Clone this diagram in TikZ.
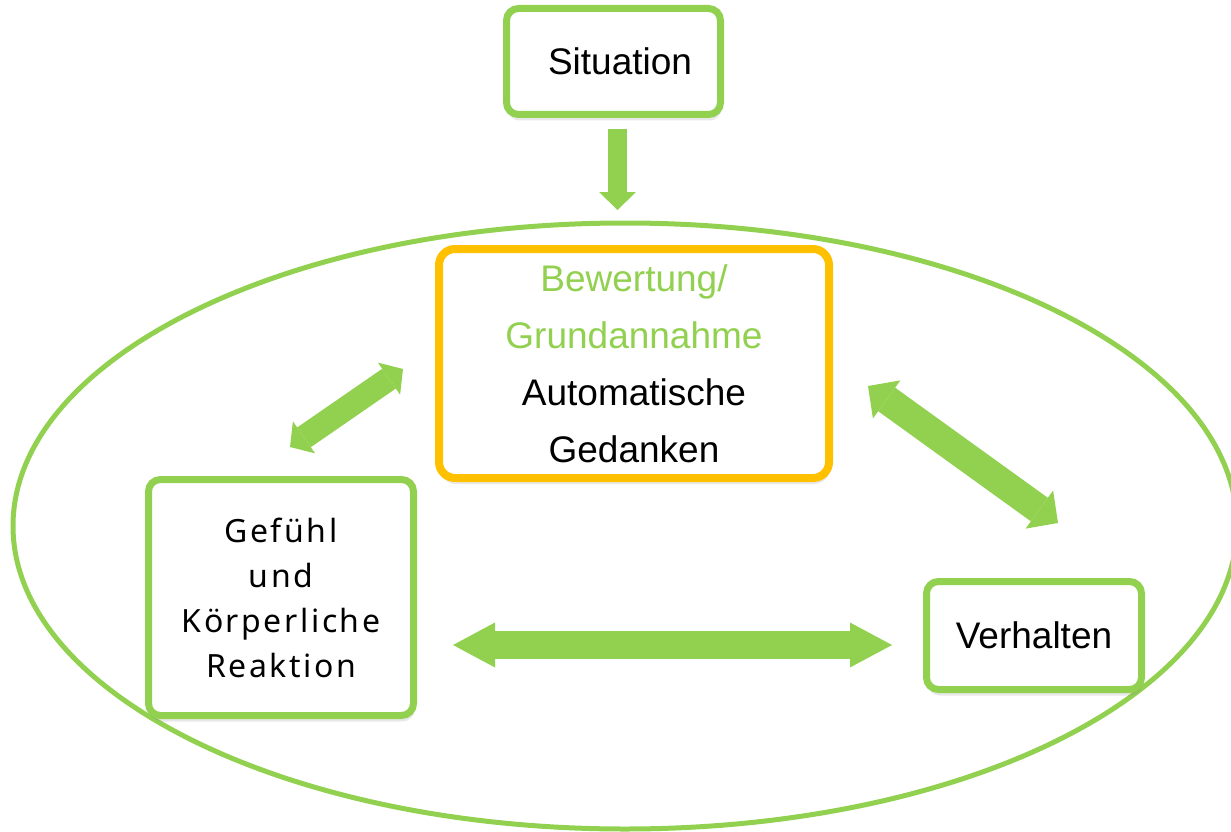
\documentclass[tikz,border=0pt]{standalone}
\usepackage{fontspec}
\setmainfont{Liberation Sans}
\newfontfamily\plexfont[LetterSpace=8]{Noto Sans}
\usetikzlibrary{arrows.meta,shadows,shapes.geometric}
\definecolor{lgreen}{HTML}{92D050}
\definecolor{gold}{HTML}{FFC000}
\begin{document}
\begin{tikzpicture}[x=1pt,y=-1pt,
  boxbase/.style={line width=7pt, rounded corners=12pt, fill=white, inner sep=0pt,
    drop shadow={shadow xshift=1pt, shadow yshift=-6pt, opacity=0.18}},
  gbox/.style={boxbase, draw=lgreen},
  ybox/.style={boxbase, draw=gold, line width=8pt, rounded corners=16pt},
  bigfont/.style={font=\fontsize{37}{57}\selectfont},
  plexstyle/.style={font=\plexfont\fontsize{32}{45}\selectfont},
  blockarrow/.style={draw=lgreen, line width=#1},
]
\useasboundingbox (0,0) rectangle (1231,832);
\clip (0,0) rectangle (1231,832);

% outer ellipse
\node[ellipse, draw=lgreen, line width=5pt, inner sep=0pt,
      minimum width=1224pt, minimum height=606pt] (kreis) at (625,526) {};

% boxes
\node[gbox, bigfont, minimum width=214pt, minimum height=106pt] (sit) at (613.5,61.5)
  {\hspace*{13pt}Situation};
\node[ybox, bigfont, align=center, minimum width=390pt, minimum height=229pt] (bew) at (634,363.5)
  {\textcolor{lgreen}{Bewertung/}\\\textcolor{lgreen}{Grundannahme}\\Automatische\\Gedanken};
\node[gbox, plexstyle, align=center, minimum width=265pt, minimum height=236pt] (gef) at (281,597.5)
  {Gefühl\\und\\Körperliche\\Reaktion};
\node[gbox, bigfont, minimum width=215pt, minimum height=108pt] (ver) at (1034,635.5)
  {Verhalten};

% connector end points
\coordinate (d1) at (617.5,129);
\coordinate (d2) at (617.5,210);
\coordinate (l1) at (290,447);
\coordinate (l2) at (403,369);
\coordinate (r1) at (868,386);
\coordinate (r2) at (1058,523);
\coordinate (h1) at (453,645);
\coordinate (h2) at (892,645);

% block arrows
\draw[blockarrow=19pt, -{Triangle[length=18pt,width=37pt,line width=0pt]}] (d1) -- (d2);
\draw[blockarrow=24pt, {Triangle[length=17pt,width=39pt,line width=0pt]}-{Triangle[length=17pt,width=39pt,line width=0pt]}] (l1) -- (l2);
\draw[blockarrow=29pt, {Triangle[length=23pt,width=47pt,line width=0pt]}-{Triangle[length=23pt,width=47pt,line width=0pt]}] (r1) -- (r2);
\draw[blockarrow=28pt, {Triangle[length=42pt,width=45pt,line width=0pt]}-{Triangle[length=42pt,width=45pt,line width=0pt]}] (h1) -- (h2);
\end{tikzpicture}
\end{document}
